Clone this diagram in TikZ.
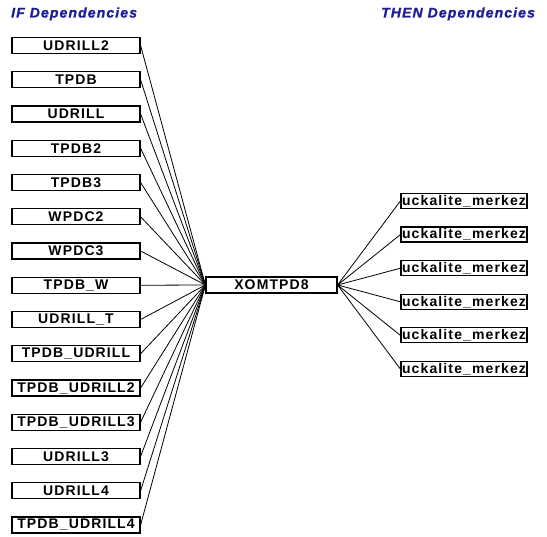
\documentclass[tikz,border=0pt]{standalone}
\usepackage{fontspec}
\newfontfamily\boxfont[LetterSpace=8]{Liberation Sans}
\newfontfamily\titlefont[LetterSpace=8,FakeBold=1.2]{Liberation Sans}
\definecolor{titleblue}{RGB}{28,30,150}
\begin{document}
\begin{tikzpicture}[x=1pt,y=-1pt,
  box/.style={draw=black, line width=1.2pt, inner sep=0pt, fill=white,
    font=\boxfont\bfseries\fontsize{14}{14}\selectfont},
  lbox/.style={box, minimum width=128pt, minimum height=16pt},
  cbox/.style={box, minimum width=131pt, minimum height=16pt},
  rbox/.style={box, minimum width=126pt, minimum height=15pt},
  title/.style={anchor=base west, inner sep=0pt, text=titleblue,
    font=\titlefont\bfseries\itshape\fontsize{14}{14}\selectfont},
  link/.style={draw=black, line width=0.8pt}]
\useasboundingbox (0,0) rectangle (547,537);
\node[title] (tif) at (11,17.5) {IF Dependencies};
\node[title] (tthen) at (381,17.5) {THEN Dependencies};
\node[cbox] (c) at (271.5,285) {XOMTPD8};
\foreach \n [count=\k from 0] in {UDRILL2,TPDB,UDRILL,TPDB2,TPDB3,WPDC2,WPDC3,TPDB\_W,UDRILL\_T,TPDB\_UDRILL,TPDB\_UDRILL2,TPDB\_UDRILL3,UDRILL3,UDRILL4,TPDB\_UDRILL4}{
  \node[lbox] (l\k) at (76,45.5+34.25*\k) {\n};
  \draw[link] (l\k.east) -- (c.west);
}
\foreach \k in {0,...,5}{
  \node[rbox] (r\k) at (464,201+33.6*\k) {uckalite\_merkez};
  \draw[link] (c.east) -- (r\k.west);
}
\end{tikzpicture}
\end{document}
